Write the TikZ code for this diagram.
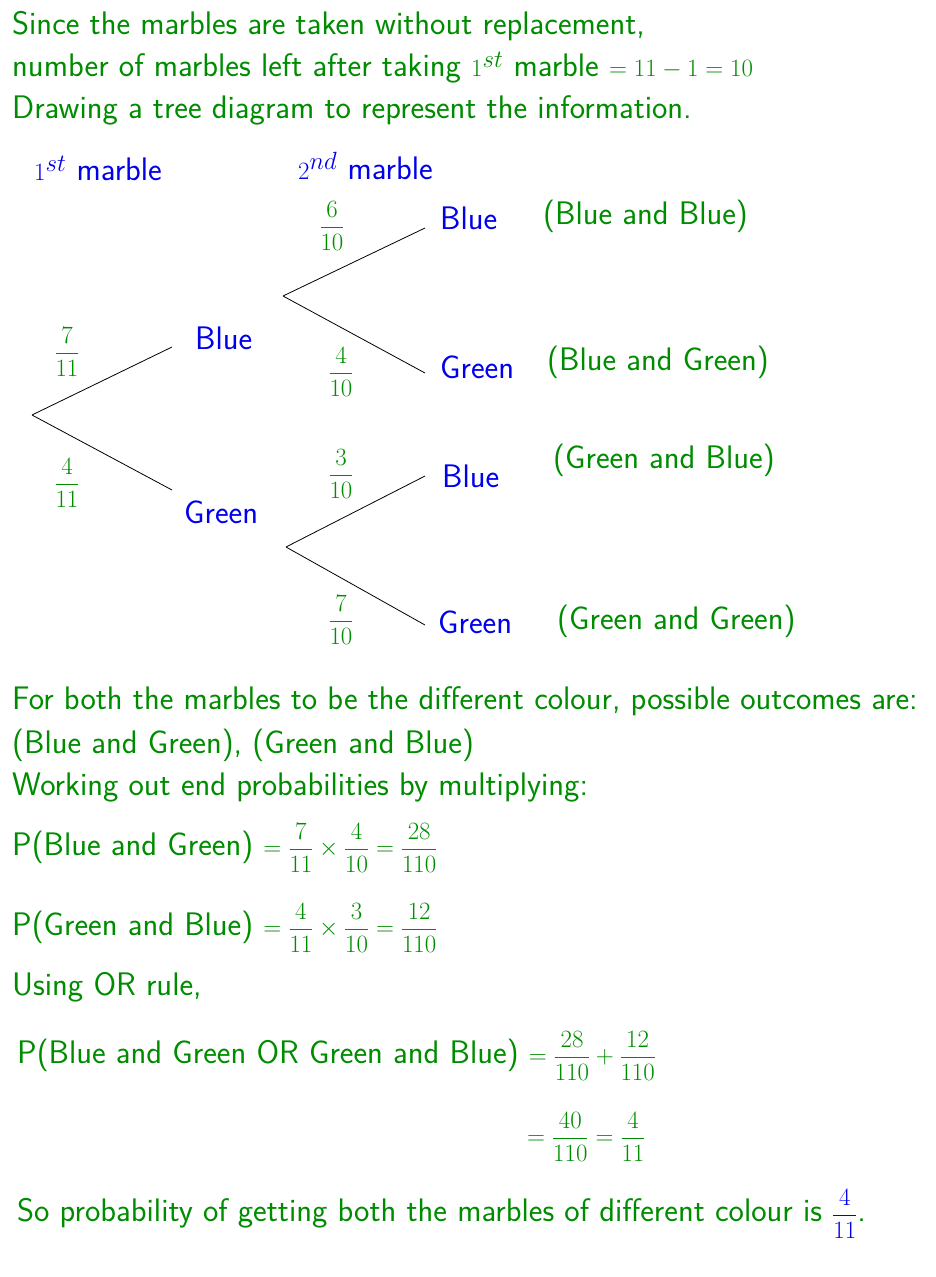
\documentclass[tikz,border=0pt]{standalone}
\usepackage{amsmath}
\definecolor{tg}{RGB}{0,140,0}
\definecolor{tb}{RGB}{0,0,235}
\begin{document}
\begin{tikzpicture}[x=1pt,y=-1pt,
  txt/.style={anchor=west,inner sep=0pt,text=tg,font=\fontsize{32.6}{38}\sffamily},
  bl/.style={txt,text=tb},
  fr/.style={inner sep=0pt,text=tg,font=\fontsize{32.6}{38}\sffamily},
  edge/.style={draw=black,line width=0.8pt}]
\useasboundingbox (0,0) rectangle (936,1277);
\node[txt] (l1) at (12,26) {Since the marbles are taken without replacement,};
\node[txt] (l2) at (12,68) {number of marbles left after taking $1^{st}$ marble $=11-1=10$};
\node[txt] (l3) at (12,110) {Drawing a tree diagram to represent the information.};
\node[bl] (h1) at (34,168) {$1^{st}$ marble};
\node[bl] (h2) at (298,166) {$2^{nd}$ marble};
% tree
\coordinate (r) at (32,415);
\coordinate (a1) at (172,347);
\coordinate (a2) at (172,490);
\node[bl] (B1) at (195,338) {Blue};
\node[bl] (G1) at (184,512) {Green};
\coordinate (s1) at (283,296);
\coordinate (s2) at (286,547);
\coordinate (e1) at (425,228);
\coordinate (e2) at (425,373);
\coordinate (e3) at (425,476);
\coordinate (e4) at (425,625);
\draw[edge] (r)--(a1) (r)--(a2) (s1)--(e1) (s1)--(e2) (s2)--(e3) (s2)--(e4);
\node[bl] (B2) at (440,218) {Blue};
\node[bl] (G2) at (440,367) {Green};
\node[bl] (B3) at (442,476) {Blue};
\node[bl] (G3) at (438,622) {Green};
\node[txt] (o1) at (543,216) {(Blue and Blue)};
\node[txt] (o2) at (547,362) {(Blue and Green)};
\node[txt] (o3) at (553,460) {(Green and Blue)};
\node[txt] (o4) at (557,621) {(Green and Green)};
\node[fr] (f1) at (67,352) {$\dfrac{7}{11}$};
\node[fr] (f2) at (67,483) {$\dfrac{4}{11}$};
\node[fr] (f3) at (332,226) {$\dfrac{6}{10}$};
\node[fr] (f4) at (341,372) {$\dfrac{4}{10}$};
\node[fr] (f5) at (341,474) {$\dfrac{3}{10}$};
\node[fr] (f6) at (341,620) {$\dfrac{7}{10}$};
% bottom text
\node[txt] (b1) at (12,701) {For both the marbles to be the different colour, possible outcomes are:};
\node[txt] (b2) at (12,745) {(Blue and Green), (Green and Blue)};
\node[txt] (b3) at (12,788) {Working out end probabilities by multiplying:};
\node[txt] (b4) at (12,848) {P(Blue and Green) $=\dfrac{7}{11}\times\dfrac{4}{10}=\dfrac{28}{110}$};
\node[txt] (b5) at (12,928) {P(Green and Blue) $=\dfrac{4}{11}\times\dfrac{3}{10}=\dfrac{12}{110}$};
\node[txt] (b6) at (12,987) {Using OR rule,};
\node[txt] (b7) at (17,1056) {P(Blue and Green OR Green and Blue) $=\dfrac{28}{110}+\dfrac{12}{110}$};
\node[txt] (b8) at (527,1137) {$=\dfrac{40}{110}=\dfrac{4}{11}$};
\node[txt] (b9) at (17,1214) {So probability of getting both the marbles of different colour is \textcolor{tb}{$\dfrac{4}{11}$}.};
\end{tikzpicture}
\end{document}
